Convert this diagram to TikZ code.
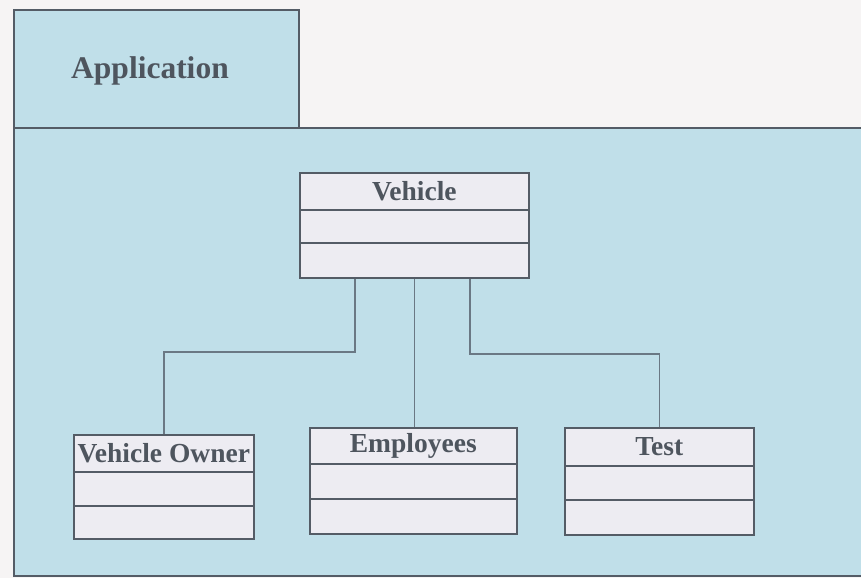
\documentclass[tikz,border=0pt]{standalone}
\usepackage{fontspec}
\setmainfont{Liberation Serif}
\usetikzlibrary{calc}

\definecolor{paper}{HTML}{F6F4F4}
\definecolor{pkgfill}{HTML}{C0DFE9}
\definecolor{boxfill}{HTML}{EDECF2}
\definecolor{edge}{HTML}{545C66}
\definecolor{wire}{HTML}{6A7884}
\definecolor{ink}{HTML}{4E555E}

\tikzset{
  pkg/.style={draw=edge, line width=1.6pt, fill=pkgfill},
  classbox/.style={draw=edge, line width=1.6pt, fill=boxfill, inner sep=0pt},
  classname/.style={font=\bfseries\fontsize{27.5}{30}\selectfont, text=ink, inner sep=0pt},
  divider/.style={draw=edge, line width=1.5pt},
  link/.style={draw=wire, line width=1.4pt}
}

% class box: name, left, top, right, bottom, first divider, second divider, title
\newcommand{\umlclass}[8]{%
  \node[classbox, minimum width=#4pt-#2pt, minimum height=#5pt-#3pt, anchor=north west]
    (#1) at (#2,#3) {};
  \node[classname] (#1-title) at ($(#1.north)!0.5!(#1.north |- 0,#6)$) {#8};
  \draw[divider] (#1.west |- 0,#6) -- (#1.east |- 0,#6);
  \draw[divider] (#1.west |- 0,#7) -- (#1.east |- 0,#7);
}

\begin{document}
\begin{tikzpicture}[x=1pt, y=-1pt]
  \useasboundingbox (0,0) rectangle (861,578);
  \fill[paper] (0,0) rectangle (861,578);

  % package tab and body
  \draw[pkg] (14,10) rectangle (299,128);
  \node[font=\bfseries\fontsize{31.5}{34}\selectfont, text=ink, inner sep=0pt]
    (app) at (150,71) {Application};
  \fill[pkgfill] (14,128) rectangle (863,576);
  \draw[edge, line width=1.8pt] (863,128) -- (14,128) -- (14,576) -- (863,576);

  % classes
  \umlclass{veh}{299}{172}{528}{277}{210}{243}{Vehicle}
  \umlclass{own}{73}{434}{253}{538}{472}{506}{Vehicle Owner}
  \umlclass{emp}{309}{427}{516}{533}{464}{499}{Employees}
  \umlclass{tst}{564}{427}{753}{534}{466}{500}{Test}

  % connectors
  \coordinate (jl) at (355,352);
  \coordinate (jr) at (470,354);
  \draw[link] (veh.south -| jl) -- (jl) -| (own.north);
  \draw[link] (veh.south) -- (veh.south |- emp.north);
  \draw[link] (veh.south -| jr) -- (jr) -| (tst.north);
\end{tikzpicture}
\end{document}
